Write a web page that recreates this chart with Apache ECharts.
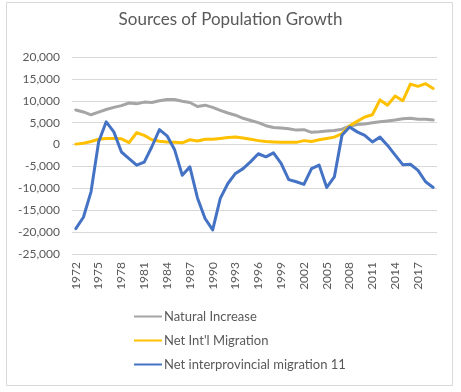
<!DOCTYPE html>
<html><head><meta charset="utf-8">
<script src="https://cdn.jsdelivr.net/npm/echarts@6/dist/echarts.min.js"></script>
<style>html,body{margin:0;padding:0;background:#fff}#c{width:461px;height:392px}</style>
</head><body><div id="c"></div>
<script>
const years = [];
for (let y = 1972; y <= 2019; y++) years.push(String(y));
const naturalIncrease = [7900,7450,6800,7400,8000,8500,8900,9500,9300,9700,9600,10000,10300,10300,9900,9600,8700,9000,8500,7800,7200,6700,6000,5500,5000,4300,3900,3800,3600,3300,3400,2800,2900,3100,3200,3500,4200,4600,4700,5000,5200,5400,5600,5900,6000,5800,5800,5600];
const netIntlMigration = [100,300,700,1200,1400,1400,1300,450,2700,2100,1100,750,600,500,400,1100,800,1200,1200,1400,1600,1700,1500,1200,900,700,600,500,500,500,900,700,1100,1400,1700,2500,4300,5300,6300,6800,10200,9000,11100,10000,13800,13300,13900,12800];
const netInterprovincial = [-19200,-16600,-10800,600,5200,2900,-1700,-3200,-4700,-4000,-500,3400,2000,-1200,-7000,-5100,-12200,-16900,-19500,-12300,-8900,-6600,-5500,-3900,-2100,-2800,-1900,-4300,-8000,-8500,-9100,-5500,-4700,-9800,-7400,2100,4000,2900,2100,600,1700,-200,-2400,-4600,-4500,-5900,-8500,-9800];
const seriesNames = ["Natural Increase","Net Int'l Migration","Net interprovincial migration 11"];
const yTicks = {min:-25000, max:20000, interval:5000};

const chart = echarts.init(document.getElementById('c'));
const txt = '#595959';
const fam = 'Lato, "Open Sans", sans-serif';
function mk(name, data, color){
  return {name, type:'line', data, symbol:'none', smooth:false,
    lineStyle:{color, width:3, cap:'round', join:'round'}, itemStyle:{color}};
}
chart.setOption({
  animation:false,
  title:{text:'Sources of Population Growth', left:'center', top:6,
    textStyle:{fontFamily:fam, fontWeight:'normal', fontSize:17, color:txt}},
  graphic:[{type:'rect', shape:{x:6.5,y:2.5,width:446,height:383}, style:{fill:'none', stroke:'#d9d9d9', lineWidth:1}, silent:true}],
  grid:{left:72, right:24, top:57, bottom:138, containLabel:false},
  legend:{orient:'vertical', left:129, top:305, itemGap:11, itemWidth:28, itemHeight:14,
    icon:'path://M0,6 L28,6 L28,8 L0,8 Z',
    textStyle:{fontFamily:fam, fontSize:13, color:txt, padding:[0,0,0,-3]}, data:seriesNames},
  xAxis:{type:'category', data:years, boundaryGap:true,
    axisLine:{show:false}, axisTick:{show:false},
    axisLabel:{interval:2, rotate:90, color:txt, fontFamily:fam, fontSize:12, margin:8}},
  yAxis:{type:'value', min:yTicks.min, max:yTicks.max, interval:yTicks.interval,
    axisLine:{show:false}, axisTick:{show:false},
    splitLine:{lineStyle:{color:'#d9d9d9', width:1}},
    axisLabel:{color:txt, fontFamily:fam, fontSize:12, margin:12,
      formatter:v=>v.toLocaleString('en-US')}},
  series:[
    mk(seriesNames[0], naturalIncrease, '#A5A5A5'),
    mk(seriesNames[1], netIntlMigration, '#FFC000'),
    mk(seriesNames[2], netInterprovincial, '#4472C4')
  ]
});
</script></body></html>
